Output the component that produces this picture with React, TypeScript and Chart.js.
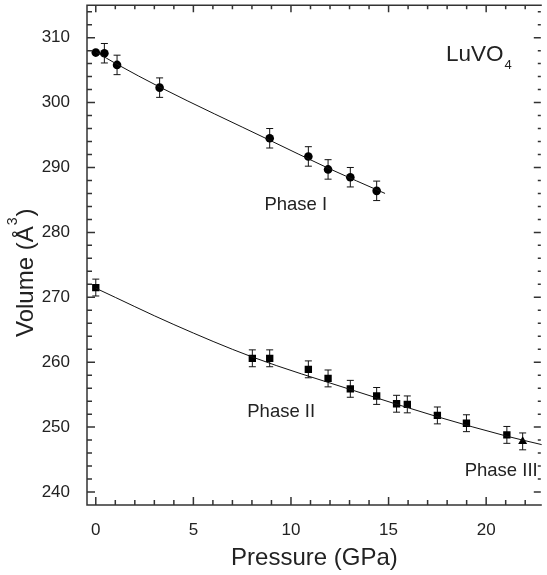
import React, { useEffect, useRef } from "react";
import { Chart, registerables } from "chart.js";

Chart.register(...registerables);

// ---- axis ranges & tick labels ----
const X_MIN = -0.45;
const X_MAX = 22.85;
const Y_MIN = 238;
const Y_MAX = 315;
const xTickValues = [0, 5, 10, 15, 20];
const yTickValues = [240, 250, 260, 270, 280, 290, 300, 310];

// ---- Phase I (circles) ----
const phase1Pressure = [0, 0.44, 1.09, 3.27, 8.91, 10.89, 11.9, 13.04, 14.39];
const phase1Volume = [307.7, 307.6, 305.8, 302.3, 294.5, 291.7, 289.7, 288.5, 286.4];
const phase1Error = [0, 1.5, 1.5, 1.5, 1.5, 1.5, 1.5, 1.5, 1.5];

// ---- Phase II (squares) ----
const phase2Pressure = [0, 8.02, 8.91, 10.89, 11.9, 13.04, 14.39, 15.41, 15.96, 17.5, 18.99, 21.06];
const phase2Volume = [271.5, 260.6, 260.6, 258.9, 257.5, 255.9, 254.8, 253.6, 253.5, 251.8, 250.6, 248.8];
const phase2Error = [1.3, 1.3, 1.3, 1.3, 1.3, 1.3, 1.3, 1.3, 1.3, 1.3, 1.3, 1.3];

// ---- Phase III (triangle) ----
const phase3Pressure = [21.87];
const phase3Volume = [247.8];
const phase3Error = [1.3];

// ---- EOS fit curves ----
const fit1Pressure = [0, 1.09, 3.27, 8.91, 11.9, 14.82];
const fit1Volume = [307.8, 305.9, 302.4, 294.2, 289.9, 286.0];
const fit2Pressure = [0, 4, 8.02, 13.04, 17.5, 21.06, 22.85];
const fit2Volume = [271.4, 265.8, 260.8, 255.8, 251.6, 248.6, 247.3];

// ---- annotation texts ----
const phaseLabels = ["Phase I", "Phase II", "Phase III"];
const phaseLabelAnchors: [number, number][] = [
  [8.64, 283.4],
  [7.76, 251.5],
  [18.9, 242.4],
];
const compoundMain = "LuVO";
const compoundSub = "4";
const compoundAnchor: [number, number] = [17.94, 306.4];
const xTitle = "Pressure (GPa)";
const yTitleMain = "Volume (Å";
const yTitleSup = "3";
const yTitleEnd = ")";

const FONT = '"Liberation Sans", Arial, Helvetica, sans-serif';
const TEXT = "#222";
const AXIS = "#333";

const toPts = (xs: number[], ys: number[]) => xs.map((x, i) => ({ x, y: ys[i] }));

const decorPlugin = {
  id: "decor",
  beforeDatasetsDraw(chart: any) {
    const { ctx, scales } = chart;
    const { x, y } = scales;
    const sets: [number[], number[], number[]][] = [
      [phase1Pressure, phase1Volume, phase1Error],
      [phase2Pressure, phase2Volume, phase2Error],
      [phase3Pressure, phase3Volume, phase3Error],
    ];
    ctx.save();
    ctx.strokeStyle = "#111";
    ctx.lineWidth = 1;
    const cap = 3.5;
    sets.forEach(([ps, vs, es]) => {
      ps.forEach((p, i) => {
        const e = es[i];
        if (!e) return;
        const px = x.getPixelForValue(p);
        const y1 = y.getPixelForValue(vs[i] + e);
        const y2 = y.getPixelForValue(vs[i] - e);
        ctx.beginPath();
        ctx.moveTo(px, y1);
        ctx.lineTo(px, y2);
        ctx.moveTo(px - cap, y1);
        ctx.lineTo(px + cap, y1);
        ctx.moveTo(px - cap, y2);
        ctx.lineTo(px + cap, y2);
        ctx.stroke();
      });
    });
    ctx.restore();
  },
  afterDraw(chart: any) {
    const { ctx, chartArea, scales } = chart;
    const { left, right, top, bottom } = chartArea;
    const { x, y } = scales;
    ctx.save();
    ctx.strokeStyle = AXIS;
    ctx.lineWidth = 1.5;
    // frame (left, top, bottom)
    ctx.beginPath();
    ctx.moveTo(right, top);
    ctx.lineTo(left, top);
    ctx.lineTo(left, bottom);
    ctx.lineTo(right, bottom);
    ctx.stroke();
    // x ticks (inward), minor every 1
    ctx.beginPath();
    for (let v = Math.ceil(X_MIN); v <= X_MAX; v += 1) {
      const px = x.getPixelForValue(v);
      const major = v % 5 === 0;
      ctx.moveTo(px, bottom);
      ctx.lineTo(px, bottom - (major ? 8 : 5));
      ctx.moveTo(px, top);
      ctx.lineTo(px, top + (major ? 7 : 4));
    }
    // y ticks (inward), minor every 2
    for (let v = 240; v <= Y_MAX; v += 2) {
      const py = y.getPixelForValue(v);
      const major = v % 10 === 0;
      ctx.moveTo(left, py);
      ctx.lineTo(left + (major ? 8 : 5), py);
      ctx.moveTo(right - 1, py);
      ctx.lineTo(right - 1 - (major ? 7 : 3), py);
    }
    ctx.stroke();

    // phase labels
    ctx.fillStyle = TEXT;
    ctx.textBaseline = "alphabetic";
    ctx.textAlign = "left";
    ctx.font = `18.5px ${FONT}`;
    phaseLabels.forEach((t, i) => {
      const [lp, lv] = phaseLabelAnchors[i];
      ctx.fillText(t, x.getPixelForValue(lp), y.getPixelForValue(lv));
    });

    // compound name with subscript
    const cx = x.getPixelForValue(compoundAnchor[0]);
    const cy = y.getPixelForValue(compoundAnchor[1]);
    ctx.font = `22.5px ${FONT}`;
    ctx.fillText(compoundMain, cx, cy);
    const w = ctx.measureText(compoundMain).width;
    ctx.font = `13px ${FONT}`;
    ctx.fillText(compoundSub, cx + w + 1, cy + 8);

    // x title
    ctx.font = `24px ${FONT}`;
    ctx.textAlign = "center";
    ctx.fillText(xTitle, (left + right) / 2, 565);

    // y title (rotated)
    ctx.save();
    ctx.translate(32.5, 337);
    ctx.rotate(-Math.PI / 2);
    ctx.textAlign = "left";
    ctx.font = `24px ${FONT}`;
    ctx.fillText(yTitleMain, 0, 0);
    let off = ctx.measureText(yTitleMain).width;
    ctx.font = `14px ${FONT}`;
    ctx.fillText(yTitleSup, off + 1, -16);
    off += ctx.measureText(yTitleSup).width + 2;
    ctx.font = `24px ${FONT}`;
    ctx.fillText(yTitleEnd, off, 0);
    ctx.restore();

    ctx.restore();
  },
};

export default function App() {
  const ref = useRef<HTMLCanvasElement | null>(null);
  useEffect(() => {
    if (!ref.current) return;
    Chart.defaults.font.family = FONT;
    const chart = new Chart(ref.current, {
      type: "scatter",
      data: {
        datasets: [
          {
            label: "fit I",
            data: toPts(fit1Pressure, fit1Volume),
            showLine: true,
            borderColor: "#111",
            borderWidth: 1,
            pointRadius: 0,
            cubicInterpolationMode: "monotone",
          },
          {
            label: "fit II",
            data: toPts(fit2Pressure, fit2Volume),
            showLine: true,
            borderColor: "#111",
            borderWidth: 1,
            pointRadius: 0,
            cubicInterpolationMode: "monotone",
          },
          {
            label: "Phase I",
            data: toPts(phase1Pressure, phase1Volume),
            pointStyle: "circle",
            pointRadius: 4.3,
            backgroundColor: "#000",
            borderColor: "#000",
            borderWidth: 0,
          },
          {
            label: "Phase II",
            data: toPts(phase2Pressure, phase2Volume),
            pointStyle: "rect",
            pointRadius: 5.2,
            backgroundColor: "#000",
            borderColor: "#000",
            borderWidth: 0,
          },
          {
            label: "Phase III",
            data: toPts(phase3Pressure, phase3Volume),
            pointStyle: "triangle",
            pointRadius: 5.2,
            backgroundColor: "#000",
            borderColor: "#000",
            borderWidth: 0,
          },
        ],
      },
      options: {
        responsive: false,
        animation: false,
        layout: { padding: { top: 3, right: 0, left: 0, bottom: 0 } },
        plugins: { legend: { display: false }, tooltip: { enabled: false } },
        scales: {
          x: {
            type: "linear",
            min: X_MIN,
            max: X_MAX,
            grid: { display: false },
            border: { display: false },
            afterBuildTicks: (s: any) => {
              s.ticks = xTickValues.map((v) => ({ value: v }));
            },
            afterFit: (s: any) => {
              s.height = 70;
              s.paddingLeft = 0;
              s.paddingRight = 0;
            },
            ticks: { font: { size: 17 }, color: TEXT, padding: 7, maxRotation: 0, autoSkip: false },
          },
          y: {
            type: "linear",
            min: Y_MIN,
            max: Y_MAX,
            grid: { display: false },
            border: { display: false },
            afterBuildTicks: (s: any) => {
              s.ticks = yTickValues.map((v) => ({ value: v }));
            },
            afterFit: (s: any) => {
              s.width = 87;
              s.paddingTop = 0;
              s.paddingBottom = 0;
            },
            ticks: { font: { size: 17 }, color: TEXT, padding: 9, autoSkip: false },
          },
        },
      },
      plugins: [decorPlugin],
    } as any);
    return () => chart.destroy();
  }, []);
  return (
    <div style={{ position: "absolute", left: 0, top: 0, width: 547, height: 575, background: "#fff" }}>
      <canvas ref={ref} width={547} height={575} style={{ display: "block" }} />
    </div>
  );
}
